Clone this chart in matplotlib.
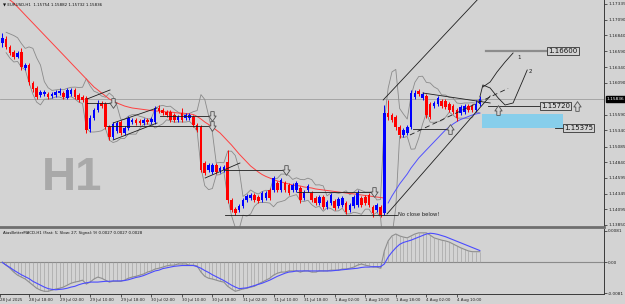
import matplotlib
matplotlib.use('Agg')
import matplotlib.pyplot as plt
import numpy as np
import pandas as pd
from matplotlib.transforms import blended_transform_factory
from matplotlib.path import Path

# ---------------- data (EURUSD H1) ----------------
opens = [1.16720,1.16783,1.16657,1.16578,1.16499,1.16578,1.16326,1.16373,1.16089,1.16010,
 1.15900,1.15916,1.15916,1.15884,1.15900,1.15931,1.15931,1.15853,1.15916,1.15979,
 1.15900,1.15868,1.15853,1.15364,1.15537,1.15663,1.15774,1.15758,1.15395,1.15238,
 1.15332,1.15474,1.15301,1.15380,1.15474,1.15506,1.15490,1.15458,1.15506,1.15474,
 1.15474,1.15695,1.15663,1.15632,1.15632,1.15584,1.15506,1.15616,1.15537,1.15537,
 1.15553,1.15427,1.15395,1.14827,1.14717,1.14686,1.14796,1.14701,1.14717,1.14843,
 1.14244,1.14102,1.14086,1.14150,1.14244,1.14275,1.14323,1.14291,1.14244,1.14275,
 1.14402,1.14402,1.14512,1.14402,1.14512,1.14480,1.14402,1.14402,1.14433,1.14275,
 1.14402,1.14354,1.14275,1.14197,1.14291,1.14134,1.14197,1.14228,1.14150,1.14165,
 1.14197,1.14086,1.14150,1.14165,1.14275,1.14291,1.14323,1.14134,1.14086,1.14134,
 1.14039,1.15616,1.15584,1.15553,1.15395,1.15269,1.15301,1.15395,1.15868,1.15963,
 1.15853,1.15884,1.15758,1.15726,1.15758,1.15805,1.15805,1.15758,1.15726,1.15663,
 1.15616,1.15632,1.15726,1.15726,1.15663,1.15754]
highs = [1.16878,1.16830,1.16688,1.16610,1.16594,1.16641,1.16404,1.16404,1.16121,1.16042,
 1.15979,1.15979,1.15947,1.15947,1.15979,1.16010,1.15963,1.16010,1.16010,1.16010,
 1.15931,1.15900,1.15884,1.15584,1.15695,1.15821,1.15805,1.15789,1.15427,1.15474,
 1.15490,1.15506,1.15411,1.15569,1.15537,1.15537,1.15521,1.15537,1.15537,1.15553,
 1.15726,1.15742,1.15695,1.15663,1.15663,1.15616,1.15584,1.15695,1.15616,1.15616,
 1.15584,1.15458,1.15427,1.14859,1.14827,1.14827,1.14827,1.14780,1.14796,1.15033,
 1.14275,1.14134,1.14181,1.14275,1.14339,1.14354,1.14354,1.14323,1.14386,1.14386,
 1.14433,1.14622,1.14544,1.14591,1.14544,1.14512,1.14512,1.14544,1.14465,1.14402,
 1.14496,1.14386,1.14307,1.14323,1.14323,1.14244,1.14354,1.14260,1.14291,1.14307,
 1.14228,1.14197,1.14323,1.14402,1.14307,1.14323,1.14354,1.14165,1.14197,1.14165,
 1.15742,1.15821,1.15616,1.15584,1.15427,1.15380,1.15427,1.15979,1.15979,1.15995,
 1.15947,1.15916,1.15789,1.15805,1.15884,1.15837,1.15837,1.15789,1.15758,1.15695,
 1.15742,1.15758,1.15758,1.15758,1.15821,1.15882]
lows = [1.16657,1.16625,1.16531,1.16468,1.16483,1.16294,1.16294,1.16058,1.15947,1.15837,
 1.15868,1.15884,1.15837,1.15853,1.15868,1.15900,1.15837,1.15837,1.15884,1.15837,
 1.15789,1.15789,1.15301,1.15316,1.15506,1.15632,1.15695,1.15364,1.15190,1.15206,
 1.15301,1.15269,1.15269,1.15348,1.15443,1.15427,1.15427,1.15427,1.15443,1.15443,
 1.15443,1.15616,1.15584,1.15553,1.15474,1.15474,1.15474,1.15474,1.15506,1.15506,
 1.15395,1.15316,1.14686,1.14638,1.14686,1.14654,1.14654,1.14670,1.14686,1.14197,
 1.14055,1.14008,1.14055,1.14118,1.14213,1.14244,1.14213,1.14197,1.14213,1.14244,
 1.14244,1.14370,1.14370,1.14370,1.14370,1.14323,1.14370,1.14370,1.14197,1.14244,
 1.14370,1.14213,1.14165,1.14165,1.14102,1.14102,1.14165,1.14086,1.14118,1.14134,
 1.14023,1.14055,1.14118,1.14134,1.14134,1.14165,1.14134,1.13976,1.14055,1.13976,
 1.14008,1.15506,1.15474,1.15348,1.15222,1.15238,1.15269,1.15364,1.15837,1.15884,
 1.15821,1.15537,1.15521,1.15695,1.15726,1.15695,1.15679,1.15632,1.15600,1.15490,
 1.15584,1.15600,1.15632,1.15632,1.15632,1.15732]
closes = [1.16799,1.16657,1.16562,1.16499,1.16562,1.16341,1.16373,1.16105,1.15995,1.15868,
 1.15947,1.15947,1.15868,1.15916,1.15947,1.15963,1.15868,1.15979,1.15979,1.15868,
 1.15821,1.15821,1.15348,1.15537,1.15663,1.15774,1.15726,1.15395,1.15238,1.15443,
 1.15458,1.15301,1.15380,1.15537,1.15506,1.15458,1.15458,1.15506,1.15474,1.15521,
 1.15695,1.15647,1.15616,1.15584,1.15506,1.15506,1.15553,1.15506,1.15584,1.15584,
 1.15427,1.15348,1.14717,1.14670,1.14796,1.14796,1.14686,1.14749,1.14764,1.14244,
 1.14086,1.14039,1.14150,1.14244,1.14307,1.14323,1.14244,1.14228,1.14354,1.14354,
 1.14275,1.14591,1.14402,1.14559,1.14402,1.14354,1.14480,1.14512,1.14244,1.14370,
 1.14465,1.14244,1.14197,1.14291,1.14134,1.14213,1.14323,1.14118,1.14260,1.14275,
 1.14055,1.14165,1.14291,1.14354,1.14165,1.14197,1.14165,1.14039,1.14165,1.14008,
 1.15616,1.15553,1.15506,1.15395,1.15269,1.15348,1.15395,1.15931,1.15931,1.15916,
 1.15916,1.15584,1.15553,1.15774,1.15853,1.15726,1.15710,1.15663,1.15632,1.15537,
 1.15710,1.15726,1.15663,1.15663,1.15758,1.15836]

red_ma = [1.17524,1.17461,1.17398,1.17351,1.17288,1.17225,1.17161,1.17098,1.17035,1.16972,
 1.16909,1.16846,1.16783,1.16720,1.16657,1.16594,1.16531,1.16468,1.16404,1.16341,
 1.16278,1.16215,1.16152,1.16089,1.16026,1.15979,1.15931,1.15884,1.15837,1.15805,
 1.15774,1.15750,1.15726,1.15710,1.15695,1.15687,1.15679,1.15671,1.15663,1.15655,
 1.15647,1.15647,1.15640,1.15632,1.15632,1.15624,1.15616,1.15616,1.15608,1.15600,
 1.15592,1.15561,1.15521,1.15474,1.15435,1.15395,1.15348,1.15301,1.15238,1.15174,
 1.15111,1.15040,1.14969,1.14906,1.14843,1.14780,1.14733,1.14686,1.14646,1.14615,
 1.14591,1.14567,1.14544,1.14528,1.14512,1.14496,1.14480,1.14473,1.14465,1.14449,
 1.14441,1.14433,1.14418,1.14410,1.14402,1.14394,1.14386,1.14378,1.14370,1.14362,
 1.14354,1.14346,1.14339,1.14331,1.14323,1.14315,1.14307,1.14299,1.14291,1.14283,
 1.14275]
blue_ma_start = 101
blue_ma = [1.14197,1.14307,1.14402,1.14496,1.14575,1.14654,1.14749,1.14827,1.14906,1.14969,
 1.15033,1.15096,1.15159,1.15222,1.15285,1.15348,1.15395,1.15443,1.15482,1.15514,
 1.15537,1.15561,1.15584,1.15600,1.15616]

macd = [0.0000,-0.0008,-0.0016,-0.0026,-0.0034,-0.0039,-0.0044,-0.0052,-0.0060,-0.0068,
 -0.0073,-0.0076,-0.0076,-0.0073,-0.0070,-0.0068,-0.0065,-0.0060,-0.0055,-0.0052,
 -0.0050,-0.0047,-0.0057,-0.0052,-0.0044,-0.0039,-0.0042,-0.0047,-0.0052,-0.0050,
 -0.0050,-0.0050,-0.0047,-0.0042,-0.0039,-0.0037,-0.0034,-0.0031,-0.0026,-0.0023,
 -0.0018,-0.0016,-0.0013,-0.0010,-0.0008,-0.0008,-0.0005,-0.0005,-0.0005,-0.0008,
 -0.0008,-0.0010,-0.0026,-0.0037,-0.0042,-0.0044,-0.0047,-0.0050,-0.0052,-0.0063,
 -0.0070,-0.0076,-0.0073,-0.0070,-0.0068,-0.0065,-0.0063,-0.0057,-0.0052,-0.0047,
 -0.0042,-0.0034,-0.0029,-0.0026,-0.0026,-0.0023,-0.0023,-0.0023,-0.0026,-0.0023,
 -0.0023,-0.0026,-0.0026,-0.0023,-0.0023,-0.0023,-0.0021,-0.0021,-0.0021,-0.0018,
 -0.0018,-0.0016,-0.0013,-0.0008,-0.0005,-0.0008,-0.0010,-0.0013,-0.0013,-0.0016,
 0.0029,0.0055,0.0068,0.0073,0.0068,0.0065,0.0063,0.0068,0.0073,0.0076,
 0.0076,0.0076,0.0070,0.0063,0.0060,0.0057,0.0055,0.0052,0.0047,0.0042,
 0.0037,0.0033,0.0029,0.0027,0.0027,0.0027]
signal = [-0.0001,-0.0008,-0.0014,-0.0021,-0.0027,-0.0033,-0.0038,-0.0043,-0.0050,-0.0055,
 -0.0060,-0.0065,-0.0069,-0.0071,-0.0072,-0.0071,-0.0070,-0.0068,-0.0065,-0.0063,
 -0.0059,-0.0056,-0.0054,-0.0052,-0.0052,-0.0052,-0.0051,-0.0050,-0.0050,-0.0049,
 -0.0049,-0.0049,-0.0048,-0.0046,-0.0043,-0.0040,-0.0038,-0.0035,-0.0031,-0.0027,
 -0.0023,-0.0021,-0.0017,-0.0015,-0.0013,-0.0011,-0.0010,-0.0009,-0.0009,-0.0009,
 -0.0009,-0.0012,-0.0016,-0.0022,-0.0027,-0.0033,-0.0038,-0.0043,-0.0048,-0.0054,
 -0.0060,-0.0065,-0.0069,-0.0068,-0.0067,-0.0064,-0.0061,-0.0058,-0.0055,-0.0051,
 -0.0047,-0.0042,-0.0037,-0.0033,-0.0029,-0.0026,-0.0025,-0.0023,-0.0023,-0.0023,
 -0.0023,-0.0023,-0.0023,-0.0023,-0.0023,-0.0023,-0.0023,-0.0022,-0.0021,-0.0020,
 -0.0019,-0.0018,-0.0017,-0.0016,-0.0014,-0.0013,-0.0013,-0.0012,-0.0012,-0.0012,
 -0.0005,0.0013,0.0026,0.0037,0.0046,0.0051,0.0054,0.0057,0.0061,0.0065,
 0.0069,0.0073,0.0075,0.0074,0.0072,0.0069,0.0066,0.0062,0.0058,0.0054,
 0.0050,0.0046,0.0042,0.0038,0.0034,0.0030]

xtick_bars = [-0.6, 7, 15, 23, 31, 39, 47, 55, 63, 71, 79, 87, 95, 103, 111, 119]
xtick_labels = ["28 Jul 2025", "28 Jul 18:00", "29 Jul 02:00", "29 Jul 10:00", "29 Jul 18:00",
                "30 Jul 02:00", "30 Jul 10:00", "30 Jul 18:00", "31 Jul 02:00", "31 Jul 10:00",
                "31 Jul 18:00", "1 Aug 02:00", "1 Aug 10:00", "1 Aug 18:00", "4 Aug 02:00",
                "4 Aug 10:00"]
price_levels = [1.17335, 1.17090, 1.16840, 1.16590, 1.16340, 1.16090, 1.15590, 1.15340,
                1.15085, 1.14840, 1.14595, 1.14345, 1.14095, 1.13850]
macd_levels = [0.0081, 0.0, -0.0081]
macd_level_labels = ["0.0081", "0.00", "-0.0081"]

# annotation objects: ((bar, price), (bar, price))
solid_lines = [
    ((22.2, 1.15837), (28.2, 1.15979)),
    ((22.2, 1.15774), (28.2, 1.15774)),
    ((29.0, 1.15190), (40.5, 1.15458)),
    ((29.0, 1.15458), (40.5, 1.15695)),
    ((27.4, 1.15411), (54.4, 1.15411)),
    ((41.3, 1.15569), (54.4, 1.15569)),
    ((53.1, 1.14591), (62.2, 1.14827)),
    ((58.0, 1.14717), (73.5, 1.14717)),
    ((58.3, 1.14008), (103.3, 1.14008)),
    ((77.1, 1.14370), (96.8, 1.14370)),
    ((99.7, 1.15821), (124.3, 1.17398)),
    ((100.7, 1.14023), (127.7, 1.15884)),
    ((107.5, 1.15364), (116.7, 1.15364)),
    ((110.1, 1.15931), (127.7, 1.15774)),
    ((127.1, 1.15720), (140.8, 1.15720)),
    ((144.7, 1.15375), (146.8, 1.15375)),
]
dashed_lines = [((106.7, 1.15269), (132.4, 1.16004))]
target_line = ((126.6, 1.16600), (142.6, 1.16600))
down_arrows = [(29.0, 1.15774), (54.9, 1.15411), (54.9, 1.15569), (74.3, 1.14717), (97.3, 1.14370)]
up_arrows = [(117.2, 1.15364), (129.8, 1.15663), (150.4, 1.15720)]
path_1 = [(125.8, 1.16026), (127.7, 1.16105), (129.5, 1.16263), (131.6, 1.16420), (133.7, 1.16562)]
path_2 = [(125.0, 1.15868), (125.8, 1.16058), (127.7, 1.16010), (129.8, 1.15853), (131.6, 1.15742),
          (133.7, 1.15774), (136.3, 1.16137), (137.4, 1.16294)]
zone = (125.6, 146.8, 1.15375, 1.15600)

# ---------------- drawing ----------------
BG = '#D3D3D3'
BULL = '#0000FF'
BEAR = '#FF0000'
W, H = 625, 304

fig = plt.figure(figsize=(W / 100, H / 100), dpi=100, facecolor=BG)
ax = fig.add_axes([0, 1 - 227 / H, 604 / W, 227 / H], facecolor=BG)
ax2 = fig.add_axes([0, 1 - 294 / H, 604 / W, 65 / H], facecolor=BG)

o = np.array(opens); h = np.array(highs); l = np.array(lows); c = np.array(closes)
x = np.arange(len(c))
cols = np.where(c >= o, BULL, BEAR)

# envelope bands computed from the candles
s = pd.Series(c)
mid = s.rolling(5, min_periods=2).mean()
sd = s.rolling(5, min_periods=2).std()
ax.plot(x, mid + 1.6 * sd, color='#8A8A8A', lw=0.6, zorder=2)
ax.plot(x, mid - 1.6 * sd, color='#8A8A8A', lw=0.6, zorder=2)

ax.plot(np.arange(len(red_ma)), red_ma, color='#FF4040', lw=0.7, zorder=2)
ax.plot(np.arange(blue_ma_start, blue_ma_start + len(blue_ma)), blue_ma, color='#5050FF', lw=0.7, zorder=2)

ax.vlines(x, l, h, colors=cols, lw=0.7, zorder=3)
body = np.maximum(np.abs(c - o), 0.00004)
ax.bar(x, body, bottom=np.minimum(o, c), width=0.68, color=cols, lw=0, zorder=4)

# current price line
ax.axhline(c[-1], color='#9E9E9E', lw=0.6, zorder=1)

# annotations
for (p0, p1) in solid_lines:
    ax.plot([p0[0], p1[0]], [p0[1], p1[1]], color='#1E1E1E', lw=0.6, zorder=5)
for (p0, p1) in dashed_lines:
    ax.plot([p0[0], p1[0]], [p0[1], p1[1]], color='#1E1E1E', lw=0.6, ls=(0, (6, 4)), zorder=5)
ax.plot([target_line[0][0], target_line[1][0]], [target_line[0][1], target_line[1][1]],
        color='#8C8C8C', lw=1.6, zorder=5)
ax.plot([p[0] for p in path_1], [p[1] for p in path_1], color='#1E1E1E', lw=0.6, zorder=5)
ax.plot([p[0] for p in path_2], [p[1] for p in path_2], color='#1E1E1E', lw=0.6, zorder=5)
ax.text(134.7, 1.16499, '1', fontsize=4, color='#202020', va='center', ha='left')
ax.text(137.9, 1.16278, '2', fontsize=4, color='#202020', va='center', ha='left')

ax.fill_between([zone[0], zone[1]], zone[2], zone[3], color='#87CEEB', lw=0, zorder=1.5)

# hollow arrow markers
arrow_down = Path([(-0.35, 1.0), (0.35, 1.0), (0.35, 0.1), (0.75, 0.1), (0.0, -1.0),
                   (-0.75, 0.1), (-0.35, 0.1), (-0.35, 1.0)],
                  [Path.MOVETO] + [Path.LINETO] * 6 + [Path.CLOSEPOLY])
arrow_up = Path([(-0.35, -1.0), (0.35, -1.0), (0.35, -0.1), (0.75, -0.1), (0.0, 1.0),
                 (-0.75, -0.1), (-0.35, -0.1), (-0.35, -1.0)],
                [Path.MOVETO] + [Path.LINETO] * 6 + [Path.CLOSEPOLY])
ax.plot([a[0] for a in down_arrows], [a[1] for a in down_arrows], ls='none', marker=arrow_down,
        ms=7, mfc=BG, mec='#505050', mew=0.6, zorder=6)
ax.plot([a[0] for a in up_arrows], [a[1] for a in up_arrows], ls='none', marker=arrow_up,
        ms=7, mfc=BG, mec='#505050', mew=0.6, zorder=6)

box = dict(boxstyle='square,pad=0.15', fc=BG, ec='#333333', lw=0.6)
ax.text(142.9, 1.16600, '1.16600', fontsize=5, va='center', ha='left', color='#111111', bbox=box, zorder=7)
ax.text(141.0, 1.15720, '1.15720', fontsize=5, va='center', ha='left', color='#111111', bbox=box, zorder=7)
ax.text(147.0, 1.15375, '1.15375', fontsize=5, va='center', ha='left', color='#111111', bbox=box, zorder=7)
ax.text(103.6, 1.14008, 'No close below!', fontsize=3.8, va='center', ha='left', color='#222222', zorder=7)

ax.text(18.3, 1.14591, 'H1', fontsize=34, fontweight='bold', family='Liberation Sans',
        color='#A9A9A9', ha='center', va='center', zorder=0.5)

# axes styling main
ax.set_xlim(-0.6, 157.5)
ax.set_ylim(1.13818, 1.17398)
ax.set_xticks([])
ax.yaxis.tick_right()
ax.set_yticks(price_levels)
ax.set_yticklabels([f'{v:.5f}' for v in price_levels])
ax.tick_params(axis='y', length=2, width=0.5, pad=1, labelsize=3.1, colors='#222222')
for sp in ['top', 'left']:
    ax.spines[sp].set_visible(False)
ax.spines['right'].set_color('#3A3A3A'); ax.spines['right'].set_linewidth(0.7)
ax.spines['bottom'].set_color('#6E6E6E'); ax.spines['bottom'].set_linewidth(2.0)

tr = blended_transform_factory(ax.transAxes, ax.transData)
ax.text(1.004, c[-1], f'{c[-1]:.5f}', transform=tr, fontsize=3.1, color='white', va='center', ha='left',
        bbox=dict(boxstyle='square,pad=0.2', fc='black', ec='black'), zorder=10, clip_on=False)

fig.text(3 / W, 1 - 4.5 / H, '\u25bc EURUSD,H1  1.15754 1.15882 1.15732 1.15836', fontsize=2.9,
         color='#111111', va='center', ha='left')

# MACD panel
m = np.array(macd); sg = np.array(signal)
ax2.axhline(0, color='#8A8A8A', lw=0.8, zorder=1)
ax2.vlines(x, 0, m, colors='#A0A0A0', lw=0.45, zorder=2)
ax2.plot(x, m, color='#8E8E8E', lw=0.8, zorder=3)
ax2.plot(x, sg, color='#4B4BFF', lw=0.8, zorder=4)
ax2.set_xlim(-0.6, 157.5)
ax2.set_ylim(-0.0083, 0.0086)
ax2.yaxis.tick_right()
ax2.set_yticks(macd_levels)
ax2.set_yticklabels(macd_level_labels)
ax2.tick_params(axis='y', length=2, width=0.5, pad=1, labelsize=3.1, colors='#222222')
ax2.set_xticks(xtick_bars)
ax2.set_xticklabels(xtick_labels)
for t in ax2.get_xticklabels():
    t.set_ha('left')
ax2.tick_params(axis='x', length=2, width=0.5, pad=1, labelsize=2.9, colors='#222222')
ax2.spines['top'].set_visible(False)
ax2.spines['left'].set_visible(False)
ax2.spines['right'].set_color('#3A3A3A'); ax2.spines['right'].set_linewidth(0.7)
ax2.spines['bottom'].set_color('#3A3A3A'); ax2.spines['bottom'].set_linewidth(0.7)
fig.text(3 / W, 1 - 233 / H, 'AtasBetterMACD-H1 (Fast: 5; Slow: 27; Signal: 9) 0.0027 0.0027 0.0028',
         fontsize=2.8, color='#111111', va='center', ha='left')

fig.savefig('out.png', dpi=100, facecolor=BG)
